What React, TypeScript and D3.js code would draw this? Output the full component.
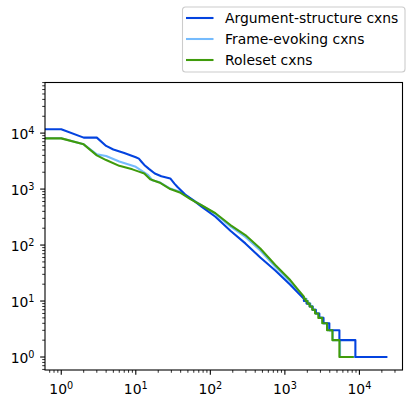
import { useEffect, useRef } from "react";
import * as d3 from "d3";

// [rank, count] points (rank 0 sits at the left edge)
const argStructure: [number, number][] = [
  [0, 11700], [1, 11700], [2, 8300], [3, 8300], [4, 5900], [5, 5100], [7, 4400],
  [9, 3900], [10, 3700], [11, 3500], [12, 3050], [13, 2700], [15, 2300], [18, 1900],
  [22, 1700], [29, 1550], [33, 1250], [36, 1100], [46, 800], [60, 620], [77, 480],
  [117, 320], [186, 180], [295, 107], [468, 60], [744, 35], [1180, 19.5], [1500, 14],
  [1800, 11], [1800, 10], [1950, 10], [1950, 9], [2150, 9], [2150, 8], [2350, 8],
  [2350, 7], [2600, 7], [2600, 6], [2900, 6], [2900, 5], [3300, 5], [3300, 4],
  [3950, 4], [3950, 3], [5390, 3], [5390, 2], [8830, 2], [8830, 1], [23000, 1],
];

const frameEvoking: [number, number][] = [
  [0, 8100], [1, 8100], [2, 6300], [3, 4170], [4, 3900], [6, 3100], [10, 2500],
  [14.7, 1770], [16.6, 1440], [21, 1320], [29, 1020], [39, 900], [54, 680], [75, 520],
  [117, 360], [186, 215], [295, 140], [468, 80], [744, 41], [1180, 22], [1500, 15],
  [1850, 11], [1950, 11], [1950, 10], [2050, 10], [2050, 9], [2200, 9], [2200, 8],
  [2380, 8], [2380, 7], [2600, 7], [2600, 6], [2870, 6], [2870, 5], [3250, 5],
  [3250, 4], [3750, 4], [3750, 3], [4400, 3], [4400, 2], [5500, 2], [5500, 1], [8800, 1],
];

const roleset: [number, number][] = [
  [0, 8050], [1, 8050], [2, 6300], [3, 4000], [4, 3300], [6, 2600], [9, 2250],
  [11, 2050], [13, 1900], [15.6, 1500], [21, 1300], [29, 1000], [39, 870], [54, 660],
  [75, 520], [117, 370], [186, 228], [295, 151], [468, 87], [744, 44], [1180, 23.7],
  [1500, 16], [1800, 12], [1800, 11], [1900, 11], [1900, 10], [2010, 10], [2010, 9],
  [2150, 9], [2150, 8], [2330, 8], [2330, 7], [2540, 7], [2540, 6], [2810, 6],
  [2810, 5], [3170, 5], [3170, 4], [3680, 4], [3680, 3], [4340, 3], [4340, 2],
  [5390, 2], [5390, 1], [8130, 1],
];

const seriesNames = ["Argument-structure cxns", "Frame-evoking cxns", "Roleset cxns"];
const seriesColors = ["#0343df", "#75bbfd", "#3f9b0b"];

const xDomain = [Math.pow(10, -0.218), Math.pow(10, 4.578)];
const yDomain = [Math.pow(10, -0.232), Math.pow(10, 4.904)];

export default function App() {
  const ref = useRef<SVGSVGElement>(null);

  useEffect(() => {
    const width = 411,
      height = 408,
      margin = { top: 82.5, right: 8.5, bottom: 38, left: 45 };
    const font = "DejaVu Sans, sans-serif";

    const svg = d3.select(ref.current);
    svg.selectAll("*").remove();

    const x = d3
      .scaleLog()
      .domain(xDomain)
      .range([margin.left, width - margin.right])
      .clamp(true);
    const y = d3
      .scaleLog()
      .domain(yDomain)
      .range([height - margin.bottom, margin.top])
      .clamp(true);

    const isMajor = (v: number) => Math.abs(Math.log10(v) - Math.round(Math.log10(v))) < 1e-9;

    svg
      .append("defs")
      .append("clipPath")
      .attr("id", "plot-clip")
      .append("rect")
      .attr("x", margin.left)
      .attr("y", margin.top)
      .attr("width", width - margin.left - margin.right)
      .attr("height", height - margin.top - margin.bottom);

    // lines
    const line = d3
      .line<[number, number]>()
      .x((d) => x(d[0]))
      .y((d) => y(d[1]));

    const drawOrder = [1, 0, 2];
    const allSeries = [argStructure, frameEvoking, roleset];
    drawOrder.forEach((i) => {
      svg
        .append("path")
        .datum(allSeries[i])
        .attr("clip-path", "url(#plot-clip)")
        .attr("fill", "none")
        .attr("stroke", seriesColors[i])
        .attr("stroke-width", 2.08)
        .attr("stroke-linejoin", "round")
        .attr("stroke-linecap", "square")
        .attr("d", line);
    });

    // x axis ticks
    const xTicks = x.ticks().filter((v) => v >= xDomain[0] && v <= xDomain[1]);
    const xAxis = svg.append("g").attr("transform", `translate(0,${height - margin.bottom})`);
    xAxis
      .selectAll("line")
      .data(xTicks)
      .enter()
      .append("line")
      .attr("x1", (d) => x(d))
      .attr("x2", (d) => x(d))
      .attr("y1", 0)
      .attr("y2", (d) => (isMajor(d) ? 4.86 : 2.78))
      .attr("stroke", "black")
      .attr("stroke-width", (d) => (isMajor(d) ? 1.1 : 0.83));

    const xLabels = xAxis
      .selectAll("text")
      .data(xTicks.filter(isMajor))
      .enter()
      .append("text")
      .attr("x", (d) => x(d))
      .attr("y", 24)
      .attr("text-anchor", "middle")
      .style("font-family", font)
      .style("font-size", "13.9px")
      .text("10");
    xLabels
      .append("tspan")
      .attr("dy", -5.5)
      .style("font-size", "9.7px")
      .text((d) => String(Math.round(Math.log10(d))));

    // y axis ticks
    const yTicks = y.ticks().filter((v) => v >= yDomain[0] && v <= yDomain[1]);
    const yAxis = svg.append("g").attr("transform", `translate(${margin.left},0)`);
    yAxis
      .selectAll("line")
      .data(yTicks)
      .enter()
      .append("line")
      .attr("y1", (d) => y(d))
      .attr("y2", (d) => y(d))
      .attr("x1", 0)
      .attr("x2", (d) => (isMajor(d) ? -4.86 : -2.78))
      .attr("stroke", "black")
      .attr("stroke-width", (d) => (isMajor(d) ? 1.1 : 0.83));

    const yLabels = yAxis
      .selectAll("text")
      .data(yTicks.filter(isMajor))
      .enter()
      .append("text")
      .attr("x", -10.5)
      .attr("y", (d) => y(d) + 6)
      .attr("text-anchor", "end")
      .style("font-family", font)
      .style("font-size", "13.9px")
      .text("10");
    yLabels
      .append("tspan")
      .attr("dy", -5.5)
      .style("font-size", "9.7px")
      .text((d) => String(Math.round(Math.log10(d))));

    // frame
    svg
      .append("rect")
      .attr("x", margin.left)
      .attr("y", margin.top)
      .attr("width", width - margin.left - margin.right)
      .attr("height", height - margin.top - margin.bottom)
      .attr("fill", "none")
      .attr("stroke", "black")
      .attr("stroke-width", 1.1);

    // legend (outside the axes, top right)
    const legend = svg.append("g").attr("transform", "translate(182.5,7)");
    legend
      .append("rect")
      .attr("width", 222.5)
      .attr("height", 65)
      .attr("rx", 3)
      .attr("fill", "white")
      .attr("fill-opacity", 0.8)
      .attr("stroke", "#cccccc")
      .attr("stroke-width", 1.1);

    const items = legend
      .selectAll("g.item")
      .data(seriesNames)
      .enter()
      .append("g")
      .attr("class", "item")
      .attr("transform", (_, i) => `translate(0,${11 + i * 21})`);
    items
      .append("line")
      .attr("x1", 3.5)
      .attr("x2", 31)
      .attr("stroke", (_, i) => seriesColors[i])
      .attr("stroke-width", 2.08);
    items
      .append("text")
      .attr("x", 42.5)
      .attr("y", 5.2)
      .style("font-family", font)
      .style("font-size", "13.9px")
      .text((d) => d);
  }, []);

  return (
    <svg
      ref={ref}
      width={411}
      height={408}
      style={{ position: "absolute", left: 0, top: 0, background: "white" }}
    />
  );
}
